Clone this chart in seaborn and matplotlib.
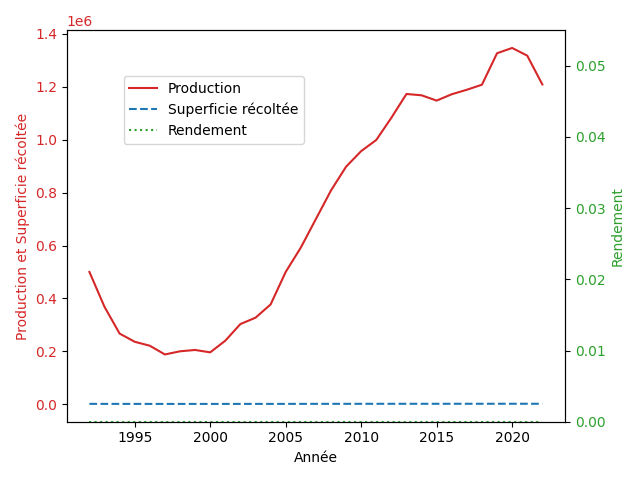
import matplotlib
matplotlib.use("Agg")
import matplotlib.pyplot as plt
import seaborn as sns
import pandas as pd

annees = list(range(1992, 2023))
production = [0.500e6, 0.368e6, 0.267e6, 0.236e6, 0.221e6, 0.188e6, 0.200e6, 0.205e6,
              0.196e6, 0.240e6, 0.303e6, 0.327e6, 0.377e6, 0.500e6, 0.592e6, 0.700e6,
              0.808e6, 0.898e6, 0.957e6, 0.999e6, 1.083e6, 1.173e6, 1.168e6, 1.148e6,
              1.172e6, 1.189e6, 1.208e6, 1.327e6, 1.347e6, 1.318e6, 1.209e6]
superficie = [1200, 1150, 1100, 1050, 1000, 980, 990, 1000, 1010, 1030, 1050, 1080,
              1100, 1150, 1200, 1250, 1300, 1350, 1400, 1420, 1450, 1480, 1500, 1500,
              1520, 1540, 1560, 1600, 1620, 1600, 1580]
rendement = [0.0] * len(annees)

df = pd.DataFrame({"Année": annees, "Production": production,
                   "Superficie": superficie, "Rendement": rendement})

fig, ax1 = plt.subplots(figsize=(6.4, 4.8), dpi=100)
sns.lineplot(data=df, x="Année", y="Production", ax=ax1, color="tab:red",
             label="Production", legend=False)
sns.lineplot(data=df, x="Année", y="Superficie", ax=ax1, color="tab:blue",
             linestyle="--", label="Superficie récoltée", legend=False)
ax1.set_xlabel("Année")
ax1.set_ylabel("Production et Superficie récoltée", color="tab:red")
ax1.tick_params(axis="y", labelcolor="tab:red")
ax1.yaxis.get_offset_text().set_color("tab:red")

ax2 = ax1.twinx()
sns.lineplot(data=df, x="Année", y="Rendement", ax=ax2, color="tab:green",
             linestyle=":", label="Rendement", legend=False)
ax2.set_ylabel("Rendement", color="tab:green")
ax2.tick_params(axis="y", labelcolor="tab:green")
ax2.set_ylim(bottom=0)

h1, l1 = ax1.get_legend_handles_labels()
h2, l2 = ax2.get_legend_handles_labels()
ax1.legend(h1 + h2, l1 + l2, loc="upper left", bbox_to_anchor=(0.1, 0.9))

fig.tight_layout()
fig.savefig("out.png", dpi=100)
